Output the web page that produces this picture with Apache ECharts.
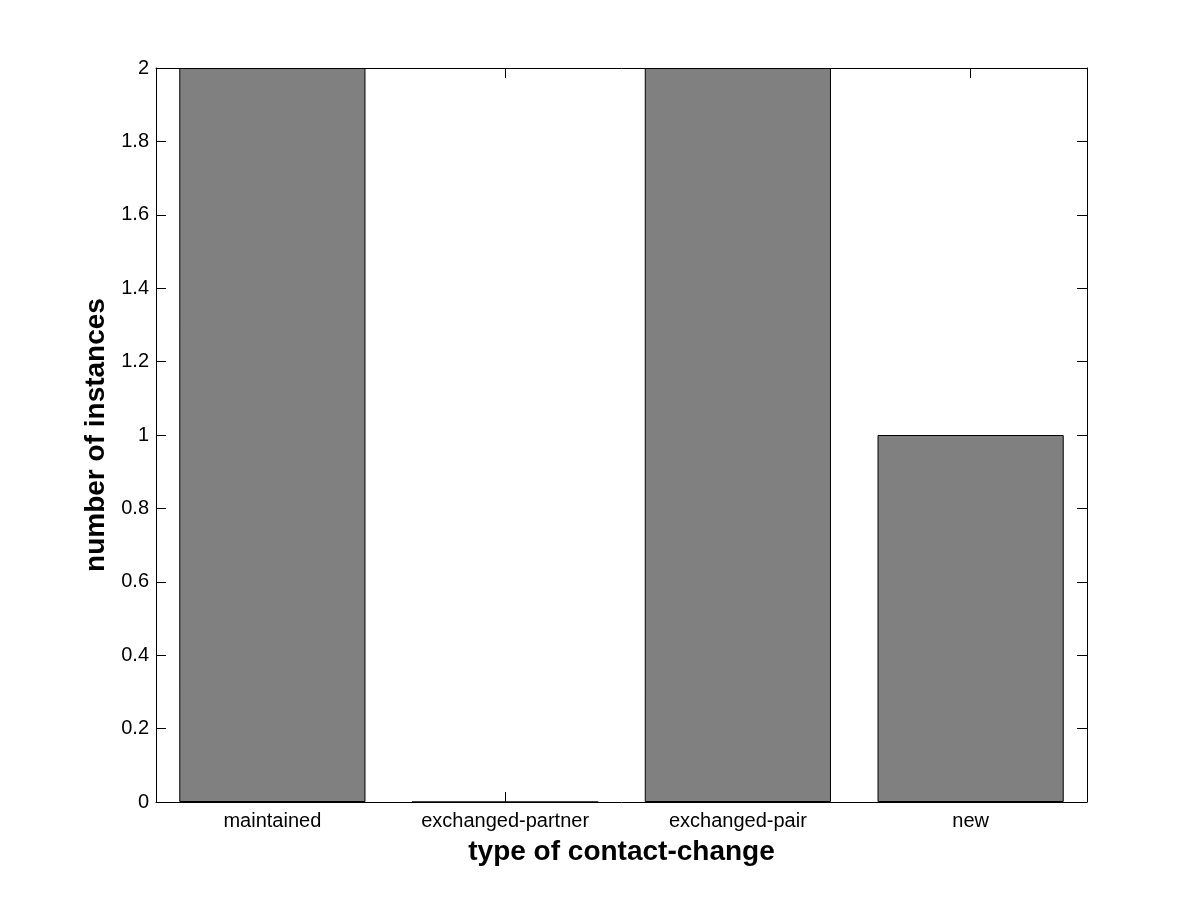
<!DOCTYPE html>
<html>
<head>
<meta charset="utf-8">
<script src="https://cdn.jsdelivr.net/npm/echarts@6/dist/echarts.min.js"></script>
<style>
html,body{margin:0;padding:0;background:#fff;}
#chart{width:1201px;height:901px;}
</style>
</head>
<body>
<div id="chart"></div>
<script>
const categories = ['maintained', 'exchanged-partner', 'exchanged-pair', 'new'];
const counts = [2, 0, 2, 1];
const yTicks = [0, 0.2, 0.4, 0.6, 0.8, 1, 1.2, 1.4, 1.6, 1.8, 2];

const chart = echarts.init(document.getElementById('chart'));
const font = '"Liberation Sans", Arial, sans-serif';
const axisLine = {show: true, onZero: false, lineStyle: {color: '#000', width: 1}};
chart.setOption({
  animation: false,
  backgroundColor: '#fff',
  grid: {left: 156, top: 68, width: 931, height: 734, containLabel: false},
  xAxis: [{
    type: 'category', data: categories, position: 'bottom',
    boundaryGap: true,
    axisLine: axisLine,
    axisTick: {show: true, inside: true, length: 10, alignWithLabel: true, lineStyle: {color: '#000'}},
    axisLabel: {color: '#000', fontFamily: font, fontSize: 20, margin: 9},
    splitLine: {show: false},
    name: 'type of contact-change', nameLocation: 'middle', nameGap: 36,
    nameTextStyle: {color: '#000', fontFamily: font, fontSize: 28, fontWeight: 'bold'}
  }, {
    type: 'category', data: categories, position: 'top',
    boundaryGap: true,
    axisLine: axisLine,
    axisTick: {show: true, inside: true, length: 10, alignWithLabel: true, lineStyle: {color: '#000'}},
    axisLabel: {show: false},
    splitLine: {show: false}
  }],
  yAxis: [{
    type: 'value', min: 0, max: 2, interval: 0.2, position: 'left',
    axisLine: axisLine,
    axisTick: {show: true, inside: true, length: 10, lineStyle: {color: '#000'}},
    axisLabel: {color: '#000', fontFamily: font, fontSize: 20, margin: 7,
      formatter: v => { const t = yTicks.find(x => Math.abs(x - v) < 1e-9); return t === undefined ? '' : String(t); }},
    splitLine: {show: false},
    name: 'number of instances', nameLocation: 'middle', nameGap: 46, nameRotate: 90,
    nameTextStyle: {color: '#000', fontFamily: font, fontSize: 28, fontWeight: 'bold'}
  }, {
    type: 'value', min: 0, max: 2, interval: 0.2, position: 'right',
    axisLine: axisLine,
    axisTick: {show: true, inside: true, length: 10, lineStyle: {color: '#000'}},
    axisLabel: {show: false},
    splitLine: {show: false}
  }],
  series: [{
    type: 'bar', data: counts, xAxisIndex: 0, yAxisIndex: 0,
    barCategoryGap: '20%',
    itemStyle: {color: '#808080', borderColor: '#000', borderWidth: 1}
  }]
});
</script>
</body>
</html>
